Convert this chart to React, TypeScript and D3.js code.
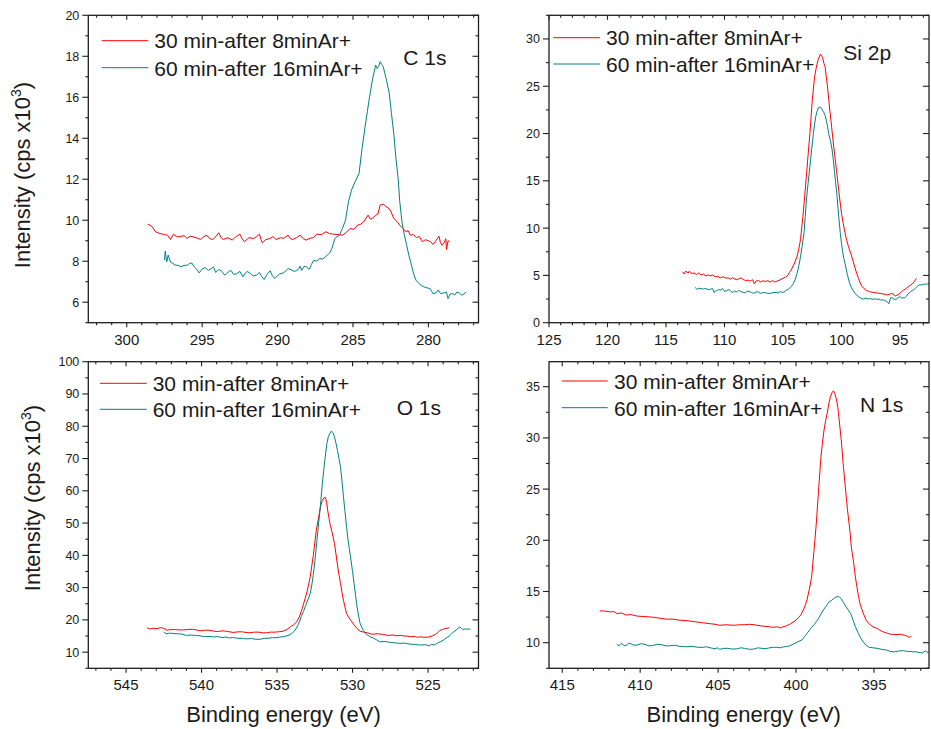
import React from "react";
import * as d3 from "d3";

// ---------- DATA ----------
type P = [number, number];

const SERIES_NAMES = ["30 min-after 8minAr+", "60 min-after 16minAr+"];
const PANEL_LABELS = ["C 1s", "Si 2p", "O 1s", "N 1s"];

const C1S_X_TICKS = [300, 295, 290, 285, 280];
const C1S_Y_TICKS = [6, 8, 10, 12, 14, 16, 18, 20];
const SI2P_X_TICKS = [125, 120, 115, 110, 105, 100, 95];
const SI2P_Y_TICKS = [0, 5, 10, 15, 20, 25, 30];
const O1S_X_TICKS = [545, 540, 535, 530, 525];
const O1S_Y_TICKS = [10, 20, 30, 40, 50, 60, 70, 80, 90, 100];
const N1S_X_TICKS = [415, 410, 405, 400, 395];
const N1S_Y_TICKS = [10, 15, 20, 25, 30, 35];

const C1S_RED: P[] = [
  [298.6, 9.81], [298.3, 9.68], [298.1, 9.44], [297.8, 9.35], [297.5, 9.3], [297.3, 9.27], [297.1, 9.06], [296.9, 9.32],
  [296.7, 9.2], [296.5, 9.19], [296.2, 9.25], [296.0, 9.11], [295.8, 9.22], [295.6, 9.19], [295.3, 9.12], [295.1, 9.06],
  [294.9, 9.2], [294.7, 9.27], [294.5, 9.1], [294.3, 9.06], [294.1, 9.2], [293.9, 9.39], [293.75, 9.15], [293.6, 9.06],
  [293.3, 9.15], [293.0, 9.03], [292.8, 9.18], [292.5, 9.32], [292.35, 9.1], [292.2, 8.95], [291.9, 9.15], [291.6, 9.11],
  [291.4, 9.2], [291.2, 9.32], [291.1, 9.05], [291.0, 8.9], [290.8, 9.05], [290.5, 9.11], [290.3, 9.2], [290.1, 9.06],
  [289.8, 9.15], [289.6, 9.11], [289.45, 9.2], [289.3, 9.27], [289.15, 9.1], [289.0, 9.06], [288.75, 9.15], [288.5, 9.27],
  [288.3, 9.1], [288.1, 9.03], [287.85, 9.12], [287.6, 9.16], [287.4, 9.32], [287.1, 9.3], [286.8, 9.44], [286.55, 9.35],
  [286.3, 9.32], [286.0, 9.3], [285.7, 9.27], [285.45, 9.4], [285.2, 9.6], [284.95, 9.55], [284.7, 9.76], [284.5, 9.8],
  [284.3, 9.92], [284.0, 10.25], [283.85, 10.05], [283.7, 10.1], [283.5, 10.25], [283.35, 10.3], [283.2, 10.74], [283.0, 10.79],
  [282.8, 10.66], [282.65, 10.6], [282.5, 10.45], [282.3, 10.09], [282.1, 9.95], [281.9, 9.76], [281.7, 9.6], [281.5, 9.44],
  [281.35, 9.5], [281.2, 9.27], [281.0, 9.3], [280.8, 9.16], [280.6, 9.2], [280.4, 8.95], [280.2, 9.05], [280.0, 9.0],
  [279.85, 8.95], [279.7, 8.82], [279.5, 9.0], [279.3, 9.22], [279.2, 8.9], [279.1, 8.78], [278.95, 8.9], [278.85, 9.1],
  [278.8, 8.57], [278.7, 9.0], [278.6, 8.95],
];

const C1S_TEAL: P[] = [
  [297.5, 8.05], [297.45, 8.49], [297.35, 7.97], [297.25, 8.3], [297.1, 7.95], [296.95, 7.9], [296.8, 7.81], [296.6, 7.8],
  [296.4, 7.73], [296.2, 7.8], [296.0, 7.8], [295.85, 7.88], [295.7, 7.92], [295.5, 7.7], [295.35, 7.6], [295.2, 7.43],
  [295.0, 7.62], [294.8, 7.69], [294.6, 7.55], [294.4, 7.64], [294.25, 7.72], [294.1, 7.45], [293.9, 7.6], [293.7, 7.5],
  [293.5, 7.32], [293.3, 7.45], [293.1, 7.56], [292.9, 7.35], [292.7, 7.4], [292.5, 7.5], [292.3, 7.24], [292.1, 7.45],
  [292.0, 7.5], [291.8, 7.4], [291.6, 7.28], [291.4, 7.32], [291.2, 7.45], [291.05, 7.25], [290.9, 7.11], [290.7, 7.35],
  [290.5, 7.53], [290.35, 7.3], [290.2, 7.16], [290.0, 7.3], [289.85, 7.38], [289.7, 7.4], [289.5, 7.5], [289.3, 7.64],
  [289.1, 7.58], [288.9, 7.5], [288.8, 7.53], [288.6, 7.62], [288.5, 7.76], [288.4, 7.55], [288.25, 7.75], [288.1, 7.73],
  [287.9, 7.6], [287.75, 7.85], [287.6, 8.05], [287.4, 8.0], [287.2, 8.13], [287.0, 8.1], [286.85, 8.2], [286.7, 8.3],
  [286.55, 8.4], [286.4, 8.62], [286.2, 9.11], [286.05, 9.2], [285.9, 9.27], [285.7, 9.6], [285.5, 10.0], [285.3, 10.9],
  [285.1, 11.47], [284.85, 11.9], [284.6, 12.28], [284.4, 13.5], [284.2, 14.56], [284.05, 15.3], [283.9, 16.03], [283.7, 16.9],
  [283.5, 17.57], [283.4, 17.4], [283.3, 17.5], [283.2, 17.74], [283.1, 17.6], [283.0, 17.5], [282.8, 16.9], [282.6, 16.2],
  [282.45, 15.2], [282.3, 14.24], [282.15, 13.0], [282.0, 11.96], [281.9, 10.9], [281.75, 9.9], [281.6, 9.3], [281.45, 8.8],
  [281.3, 8.3], [281.1, 7.73], [280.95, 7.3], [280.8, 7.04], [280.6, 6.9], [280.45, 6.8], [280.3, 6.75], [280.1, 6.7],
  [279.9, 6.67], [279.8, 6.55], [279.7, 6.42], [279.5, 6.45], [279.35, 6.6], [279.2, 6.42], [279.0, 6.45], [278.8, 6.5],
  [278.75, 6.3], [278.7, 6.18], [278.55, 6.4], [278.4, 6.42], [278.25, 6.35], [278.1, 6.5], [277.95, 6.45], [277.8, 6.34],
  [277.65, 6.4], [277.5, 6.5],
];

const SI2P_RED: P[] = [
  [113.6, 5.39], [113.45, 5.15], [113.3, 5.45], [113.1, 5.25], [113.0, 5.45], [112.8, 5.2], [112.6, 5.25], [112.4, 5.1],
  [112.2, 5.25], [112.0, 5.05], [111.8, 5.15], [111.6, 4.95], [111.4, 5.05], [111.2, 4.95], [111.0, 5.05], [110.8, 4.85],
  [110.6, 4.9], [110.35, 4.75], [110.1, 4.86], [109.9, 4.7], [109.7, 4.75], [109.5, 4.6], [109.3, 4.75], [109.0, 4.55],
  [108.8, 4.62], [108.6, 4.75], [108.4, 4.58], [108.2, 4.45], [108.0, 4.5], [107.8, 4.4], [107.6, 4.55], [107.45, 4.1],
  [107.3, 4.4], [107.1, 4.45], [106.9, 4.3], [106.7, 4.44], [106.5, 4.35], [106.3, 4.45], [106.1, 4.3], [105.9, 4.45],
  [105.7, 4.3], [105.5, 4.4], [105.3, 4.5], [105.0, 4.69], [104.8, 4.8], [104.6, 5.0], [104.45, 5.3], [104.3, 5.57],
  [104.05, 6.2], [103.8, 6.98], [103.65, 7.8], [103.5, 8.8], [103.3, 11.2], [103.15, 13.3], [103.0, 15.5], [102.85, 17.8],
  [102.7, 20.0], [102.5, 23.5], [102.3, 26.0], [102.15, 27.0], [102.0, 27.8], [101.8, 28.4], [101.6, 28.0], [101.5, 27.4],
  [101.4, 27.07], [101.3, 26.0], [101.2, 25.0], [101.0, 22.5], [100.85, 20.8], [100.7, 19.0], [100.55, 17.4], [100.4, 15.8],
  [100.2, 13.6], [100.0, 11.56], [99.85, 10.5], [99.7, 9.5], [99.55, 8.7], [99.4, 8.04], [99.2, 7.3], [99.0, 6.5],
  [98.85, 5.8], [98.7, 5.22], [98.55, 4.7], [98.4, 4.2], [98.25, 3.85], [98.1, 3.63], [97.85, 3.4], [97.6, 3.28],
  [97.3, 3.2], [97.0, 3.15], [96.7, 3.1], [96.4, 3.03], [96.15, 2.95], [95.9, 3.0], [95.75, 3.1], [95.6, 3.05],
  [95.4, 2.82], [95.2, 2.95], [95.0, 3.1], [94.85, 3.3], [94.7, 3.45], [94.55, 3.55], [94.4, 3.7], [94.25, 3.85],
  [94.1, 3.98], [93.95, 4.1], [93.8, 4.3], [93.7, 4.5], [93.6, 4.69],
];

const SI2P_TEAL: P[] = [
  [112.5, 3.74], [112.35, 3.5], [112.2, 3.65], [112.0, 3.6], [111.8, 3.56], [111.6, 3.62], [111.4, 3.5], [111.2, 3.55],
  [111.0, 3.6], [110.9, 3.2], [110.7, 3.38], [110.5, 3.5], [110.3, 3.45], [110.15, 3.6], [110.0, 3.3], [109.8, 3.4],
  [109.6, 3.5], [109.45, 3.3], [109.3, 3.2], [109.15, 3.35], [109.0, 3.24], [108.8, 3.4], [108.6, 3.3], [108.4, 3.2],
  [108.2, 3.15], [108.05, 3.35], [107.9, 3.3], [107.7, 3.2], [107.5, 3.1], [107.3, 3.25], [107.1, 3.25], [106.95, 3.1],
  [106.8, 3.15], [106.6, 3.2], [106.4, 3.12], [106.1, 3.1], [105.85, 3.18], [105.6, 3.2], [105.4, 3.15], [105.2, 3.3],
  [105.05, 3.2], [104.9, 3.25], [104.7, 3.45], [104.55, 3.5], [104.4, 3.7], [104.25, 3.9], [104.1, 4.16], [103.95, 4.6],
  [103.8, 5.2], [103.65, 6.0], [103.5, 6.98], [103.35, 8.2], [103.2, 9.5], [103.1, 11.2], [103.0, 12.97], [102.85, 14.8],
  [102.7, 16.5], [102.55, 18.3], [102.4, 20.0], [102.3, 21.0], [102.2, 21.8], [102.1, 22.3], [102.0, 22.7], [101.85, 22.8],
  [101.7, 22.66], [101.6, 22.4], [101.5, 22.2], [101.4, 21.9], [101.3, 21.4], [101.2, 20.8], [101.1, 20.0], [100.95, 19.3],
  [100.8, 18.26], [100.7, 17.2], [100.6, 16.0], [100.5, 14.8], [100.4, 13.68], [100.25, 11.4], [100.1, 9.45], [100.0, 8.4],
  [99.9, 7.5], [99.8, 6.8], [99.7, 6.27], [99.5, 5.1], [99.3, 4.16], [99.15, 3.7], [99.0, 3.4], [98.85, 3.1],
  [98.7, 2.93], [98.5, 2.7], [98.3, 2.55], [98.1, 2.5], [97.9, 2.6], [97.7, 2.5], [97.5, 2.55], [97.3, 2.45],
  [97.15, 2.55], [97.0, 2.47], [96.8, 2.5], [96.65, 2.4], [96.5, 2.42], [96.3, 2.35], [96.1, 2.22], [95.95, 2.0],
  [95.85, 2.45], [95.75, 2.7], [95.6, 2.57], [95.45, 2.45], [95.3, 2.5], [95.15, 2.65], [95.0, 2.75], [94.85, 2.6],
  [94.6, 2.65], [94.45, 2.8], [94.3, 3.05], [94.1, 3.28], [93.95, 3.4], [93.8, 3.5], [93.6, 3.75], [93.4, 3.98],
  [93.2, 4.0], [93.0, 4.05], [92.8, 4.1], [92.65, 4.08], [92.5, 4.16],
];

const O1S_RED: P[] = [
  [543.6, 17.5], [543.4, 17.2], [543.2, 17.4], [542.95, 17.3], [542.7, 17.6], [542.5, 17.4], [542.3, 16.8], [542.05, 17.0],
  [541.8, 17.0], [541.5, 16.9], [541.2, 16.9], [540.9, 17.0], [540.6, 17.1], [540.35, 16.9], [540.1, 16.6], [539.8, 16.8],
  [539.5, 16.8], [539.2, 16.5], [538.9, 16.4], [538.65, 16.6], [538.4, 16.5], [538.15, 16.3], [537.9, 16.1], [537.6, 16.3],
  [537.3, 16.3], [537.05, 16.1], [536.8, 16.0], [536.5, 16.2], [536.2, 16.2], [535.95, 16.0], [535.7, 16.0], [535.45, 16.2],
  [535.2, 16.2], [534.9, 16.3], [534.6, 16.5], [534.35, 17.0], [534.1, 17.9], [533.9, 18.5], [533.7, 19.4], [533.5, 21.2],
  [533.3, 24.05], [533.15, 26.5], [533.0, 29.0], [532.8, 33.35], [532.6, 40.0], [532.4, 47.8], [532.2, 53.0], [532.1, 55.5],
  [532.0, 57.1], [531.9, 57.8], [531.8, 57.95], [531.72, 56.5], [531.65, 54.0], [531.5, 49.9], [531.35, 47.0], [531.2, 43.7],
  [531.1, 40.5], [531.0, 37.0], [530.9, 34.0], [530.8, 31.3], [530.7, 28.5], [530.6, 26.0], [530.5, 24.0], [530.4, 22.0],
  [530.25, 20.7], [530.1, 19.8], [529.9, 18.4], [529.7, 17.3], [529.5, 16.5], [529.25, 16.2], [529.0, 16.0], [528.8, 15.6],
  [528.6, 15.6], [528.3, 15.7], [528.0, 15.5], [527.65, 15.2], [527.3, 15.3], [527.05, 15.1], [526.8, 15.2], [526.6, 15.0],
  [526.4, 15.0], [526.15, 14.8], [525.9, 14.9], [525.7, 14.6], [525.5, 14.75], [525.2, 14.6], [524.9, 14.75], [524.7, 15.1],
  [524.5, 15.5], [524.35, 16.1], [524.2, 16.8], [524.05, 17.0], [523.9, 17.3], [523.75, 17.4], [523.6, 17.6],
];

const O1S_TEAL: P[] = [
  [542.5, 16.3], [542.35, 15.7], [542.2, 15.8], [542.05, 15.9], [541.9, 15.8], [541.6, 15.7], [541.3, 15.6], [541.0, 15.2],
  [540.7, 15.3], [540.4, 15.2], [540.1, 15.06], [539.8, 14.8], [539.5, 14.9], [539.2, 14.7], [538.9, 14.8], [538.65, 14.5],
  [538.4, 14.7], [538.15, 14.4], [537.9, 14.55], [537.6, 14.3], [537.3, 14.3], [537.0, 14.1], [536.7, 14.2], [536.4, 14.0],
  [536.1, 14.0], [535.85, 14.3], [535.6, 14.3], [535.3, 14.5], [535.0, 14.5], [534.8, 14.7], [534.6, 14.75], [534.4, 15.0],
  [534.2, 15.3], [534.05, 15.7], [533.9, 16.3], [533.75, 17.2], [533.6, 18.5], [533.5, 19.6], [533.4, 21.0], [533.25, 22.6],
  [533.1, 24.5], [532.95, 26.3], [532.8, 28.2], [532.7, 30.8], [532.6, 34.0], [532.5, 38.0], [532.4, 42.65], [532.3, 47.5],
  [532.2, 52.0], [532.1, 57.0], [532.0, 62.3], [531.85, 69.0], [531.7, 74.7], [531.6, 76.8], [531.5, 77.8], [531.4, 78.5],
  [531.3, 78.0], [531.2, 76.75], [531.1, 74.8], [531.0, 72.5], [530.9, 70.0], [530.8, 67.5], [530.7, 63.0], [530.6, 58.0],
  [530.5, 53.5], [530.4, 48.9], [530.3, 44.8], [530.15, 40.0], [530.0, 35.0], [529.9, 31.3], [529.8, 27.5], [529.7, 24.0],
  [529.6, 21.2], [529.5, 18.9], [529.3, 16.8], [529.1, 15.6], [528.85, 14.8], [528.6, 14.3], [528.4, 13.8], [528.2, 13.2],
  [527.85, 13.3], [527.5, 13.0], [527.2, 12.9], [526.9, 12.7], [526.55, 12.8], [526.2, 12.5], [525.85, 12.4], [525.5, 12.2],
  [525.2, 12.3], [524.9, 12.0], [524.75, 12.4], [524.6, 12.2], [524.45, 12.6], [524.3, 13.0], [524.15, 13.3], [524.0, 13.7],
  [523.8, 14.4], [523.6, 15.0], [523.45, 15.7], [523.3, 16.3], [523.1, 17.0], [522.9, 17.85], [522.8, 17.4], [522.7, 17.0],
  [522.6, 17.2], [522.5, 17.1], [522.35, 17.2], [522.2, 17.1],
];

const N1S_RED: P[] = [
  [412.6, 13.1], [412.3, 13.1], [411.9, 13.0], [411.7, 13.05], [411.5, 12.85], [411.2, 12.9], [410.9, 12.7], [410.6, 12.75],
  [410.2, 12.6], [409.7, 12.55], [409.2, 12.5], [408.8, 12.4], [408.3, 12.3], [407.9, 12.3], [407.5, 12.2], [407.0, 12.15],
  [406.5, 12.05], [406.0, 11.95], [405.5, 11.85], [405.2, 11.8], [404.9, 11.7], [404.5, 11.75], [404.0, 11.7], [403.6, 11.75],
  [403.3, 11.75], [403.0, 11.8], [402.7, 11.76], [402.3, 11.65], [402.0, 11.6], [401.7, 11.55], [401.5, 11.5], [401.2, 11.55],
  [401.0, 11.45], [400.85, 11.55], [400.7, 11.6], [400.55, 11.7], [400.4, 11.8], [400.2, 12.0], [400.0, 12.2], [399.85, 12.45],
  [399.7, 12.7], [399.6, 13.0], [399.5, 13.3], [399.4, 13.7], [399.3, 14.17], [399.15, 15.2], [399.0, 16.4], [398.85, 19.0],
  [398.7, 21.65], [398.55, 25.0], [398.4, 28.2], [398.3, 29.6], [398.2, 30.8], [398.1, 31.7], [398.0, 32.4], [397.9, 33.3],
  [397.8, 34.0], [397.7, 34.4], [397.6, 34.6], [397.5, 34.3], [397.4, 33.7], [397.32, 33.0], [397.25, 32.0], [397.1, 29.8],
  [396.95, 27.0], [396.8, 24.6], [396.7, 23.0], [396.55, 21.0], [396.45, 19.3], [396.3, 17.75], [396.2, 16.5], [396.1, 15.5],
  [396.0, 14.6], [395.9, 13.84], [395.7, 12.9], [395.5, 12.2], [395.35, 11.9], [395.2, 11.7], [395.0, 11.5], [394.8, 11.4],
  [394.6, 11.2], [394.4, 11.05], [394.2, 10.95], [394.0, 10.85], [393.75, 10.8], [393.5, 10.8], [393.3, 10.82], [393.1, 10.75],
  [392.95, 10.7], [392.8, 10.55], [392.7, 10.55], [392.6, 10.6],
];

const N1S_TEAL: P[] = [
  [411.5, 9.84], [411.35, 9.7], [411.2, 9.95], [411.05, 9.75], [410.9, 9.7], [410.75, 9.95], [410.6, 9.9], [410.4, 9.75],
  [410.2, 9.77], [409.95, 9.9], [409.7, 9.85], [409.45, 9.7], [409.2, 9.72], [408.9, 9.85], [408.6, 9.8], [408.35, 9.68],
  [408.1, 9.7], [407.8, 9.75], [407.5, 9.65], [407.25, 9.62], [407.0, 9.6], [406.75, 9.65], [406.5, 9.6], [406.25, 9.55],
  [406.0, 9.54], [405.75, 9.6], [405.5, 9.5], [405.35, 9.45], [405.2, 9.4], [405.05, 9.5], [404.9, 9.35], [404.65, 9.45],
  [404.4, 9.45], [404.1, 9.38], [403.8, 9.4], [403.55, 9.5], [403.3, 9.45], [403.0, 9.35], [402.7, 9.38], [402.45, 9.5],
  [402.2, 9.45], [401.95, 9.42], [401.7, 9.5], [401.45, 9.55], [401.2, 9.55], [401.0, 9.5], [400.8, 9.6], [400.6, 9.62],
  [400.4, 9.7], [400.2, 9.85], [400.0, 10.0], [399.8, 10.15], [399.6, 10.3], [399.45, 10.6], [399.3, 10.9], [399.15, 11.2],
  [399.0, 11.5], [398.85, 11.75], [398.7, 12.05], [398.55, 12.4], [398.4, 12.8], [398.25, 13.2], [398.1, 13.5], [397.9, 13.95],
  [397.75, 14.1], [397.6, 14.3], [397.45, 14.45], [397.3, 14.5], [397.2, 14.45], [397.1, 14.3], [397.0, 14.0], [396.9, 13.8],
  [396.8, 13.5], [396.65, 13.2], [396.5, 12.86], [396.4, 12.45], [396.3, 12.0], [396.2, 11.6], [396.1, 11.24], [396.0, 10.9],
  [395.9, 10.6], [395.8, 10.35], [395.7, 10.1], [395.5, 9.75], [395.3, 9.54], [395.05, 9.5], [394.8, 9.45], [394.5, 9.35],
  [394.2, 9.28], [393.95, 9.15], [393.7, 9.1], [393.4, 9.2], [393.1, 9.22], [392.9, 9.15], [392.7, 9.15], [392.5, 9.1],
  [392.3, 9.12], [392.1, 9.05], [391.9, 9.0], [391.8, 9.1], [391.7, 9.22], [391.6, 9.05], [391.5, 9.1],
];

// ---------- LAYOUT / STYLE ----------
const W = 931;
const H = 729;
const RED = "#ff0000";
const TEAL = "#008080";
const AXIS = "#1f1f1f";
const FONT = "'Liberation Sans', Arial, Helvetica, sans-serif";

type Panel = {
  left: number; right: number; top: number; bottom: number;
  xDomain: [number, number]; yDomain: [number, number];
  xTicks: number[]; yTicks: number[]; xMinor: number; yMinor: number;
  red: P[]; teal: P[]; label: string;
  legX1: number; legX2: number; legTextX: number; legY: [number, number]; legBase: [number, number];
  labX: number; labBase: number;
  yLabel?: { x: number; cy: number };
  xLabel?: { cx: number; base: number };
};

const panels: Panel[] = [
  {
    left: 88.3, right: 478.5, top: 15.3, bottom: 322.7,
    xDomain: [302.55, 276.68], yDomain: [5, 20],
    xTicks: C1S_X_TICKS, yTicks: C1S_Y_TICKS, xMinor: 1, yMinor: 1,
    red: C1S_RED, teal: C1S_TEAL, label: PANEL_LABELS[0],
    legX1: 101.7, legX2: 148.3, legTextX: 154.3, legY: [40.7, 67.7], legBase: [48.3, 75.7],
    labX: 403.3, labBase: 65,
    yLabel: { x: 29.5, cy: 175 },
  },
  {
    left: 549, right: 929, top: 15.3, bottom: 322.7,
    xDomain: [125, 92.52], yDomain: [0, 32.5],
    xTicks: SI2P_X_TICKS, yTicks: SI2P_Y_TICKS, xMinor: 1, yMinor: 2.5,
    red: SI2P_RED, teal: SI2P_TEAL, label: PANEL_LABELS[1],
    legX1: 553.3, legX2: 600, legTextX: 606, legY: [37.7, 64], legBase: [45, 71.7],
    labX: 843.3, labBase: 60,
  },
  {
    left: 88.3, right: 478.5, top: 361.7, bottom: 668.3,
    xDomain: [547.5, 521.66], yDomain: [5, 100],
    xTicks: O1S_X_TICKS, yTicks: O1S_Y_TICKS, xMinor: 1, yMinor: 5,
    red: O1S_RED, teal: O1S_TEAL, label: PANEL_LABELS[2],
    legX1: 100, legX2: 146.7, legTextX: 152.7, legY: [383.3, 409.3], legBase: [391, 417.3],
    labX: 396.7, labBase: 415,
    yLabel: { x: 39.5, cy: 498 },
    xLabel: { cx: 283.5, base: 722 },
  },
  {
    left: 549, right: 929, top: 361.7, bottom: 668.3,
    xDomain: [415.85, 391.47], yDomain: [7.5, 37.44],
    xTicks: N1S_X_TICKS, yTicks: N1S_Y_TICKS, xMinor: 1, yMinor: 2.5,
    red: N1S_RED, teal: N1S_TEAL, label: PANEL_LABELS[3],
    legX1: 561.7, legX2: 607.7, legTextX: 614, legY: [381, 407.7], legBase: [389.3, 415.7],
    labX: 860, labBase: 411.7,
    xLabel: { cx: 743.7, base: 722 },
  },
];

function minorValues(domain: [number, number], step: number, majors: number[]): number[] {
  const lo = Math.min(domain[0], domain[1]);
  const hi = Math.max(domain[0], domain[1]);
  const start = Math.ceil(lo / step - 1e-9) * step;
  const out: number[] = [];
  for (let v = start; v <= hi + 1e-9; v += step) {
    const r = Math.round(v * 1000) / 1000;
    if (!majors.some((m) => Math.abs(m - r) < 1e-6)) out.push(r);
  }
  return out;
}

function PanelView({ p, i }: { p: Panel; i: number }) {
  const x = d3.scaleLinear().domain(p.xDomain).range([p.left, p.right]);
  const y = d3.scaleLinear().domain(p.yDomain).range([p.bottom, p.top]);
  const line = d3.line<P>().x((d) => x(d[0])).y((d) => y(d[1]));
  const xMin = minorValues(p.xDomain, p.xMinor, p.xTicks);
  const yMin = minorValues(p.yDomain, p.yMinor, p.yTicks);
  const clipId = `clip${i}`;
  const XMAJ = 4.5, XMIN = 2.5, YMAJ = 6, YMIN = 3;
  return (
    <g>
      <defs>
        <clipPath id={clipId}>
          <rect x={p.left} y={p.top} width={p.right - p.left} height={p.bottom - p.top} />
        </clipPath>
      </defs>
      <g clipPath={`url(#${clipId})`} fill="none" strokeWidth={1} strokeLinejoin="round">
        <path d={line(p.red) || ""} stroke={RED} />
        <path d={line(p.teal) || ""} stroke={TEAL} />
      </g>
      <rect x={p.left} y={p.top} width={p.right - p.left} height={p.bottom - p.top} fill="none" stroke={AXIS} strokeWidth={1.3} />
      <g stroke={AXIS} strokeWidth={1.1}>
        {p.xTicks.map((t) => (
          <g key={`xt${t}`}>
            <line x1={x(t)} x2={x(t)} y1={p.bottom} y2={p.bottom + XMAJ} />
            <line x1={x(t)} x2={x(t)} y1={p.top} y2={p.top + XMAJ} />
          </g>
        ))}
        {xMin.map((t) => (
          <g key={`xm${t}`}>
            <line x1={x(t)} x2={x(t)} y1={p.bottom} y2={p.bottom + XMIN} />
            <line x1={x(t)} x2={x(t)} y1={p.top} y2={p.top + XMIN} />
          </g>
        ))}
        {p.yTicks.map((t) => (
          <g key={`yt${t}`}>
            <line x1={p.left - YMAJ} x2={p.left} y1={y(t)} y2={y(t)} />
            <line x1={p.right - YMAJ} x2={p.right} y1={y(t)} y2={y(t)} />
          </g>
        ))}
        {yMin.map((t) => (
          <g key={`ym${t}`}>
            <line x1={p.left - YMIN} x2={p.left} y1={y(t)} y2={y(t)} />
            <line x1={p.right - YMIN} x2={p.right} y1={y(t)} y2={y(t)} />
          </g>
        ))}
      </g>
      <g fontFamily={FONT} fill="#1a1a1a">
        {p.xTicks.map((t) => (
          <text key={`xl${t}`} x={x(t)} y={p.bottom + 21.8} fontSize={15} textAnchor="middle">{t}</text>
        ))}
        {p.yTicks.map((t) => (
          <text key={`yl${t}`} x={p.left - 9} y={y(t)} dy="0.36em" fontSize={12.5} textAnchor="end">{t}</text>
        ))}
        <line x1={p.legX1} x2={p.legX2} y1={p.legY[0]} y2={p.legY[0]} stroke={RED} strokeWidth={1} />
        <line x1={p.legX1} x2={p.legX2} y1={p.legY[1]} y2={p.legY[1]} stroke={TEAL} strokeWidth={1} />
        <text x={p.legTextX} y={p.legBase[0]} fontSize={21}>{SERIES_NAMES[0]}</text>
        <text x={p.legTextX} y={p.legBase[1]} fontSize={21}>{SERIES_NAMES[1]}</text>
        <text x={p.labX} y={p.labBase} fontSize={21}>{p.label}</text>
        {p.yLabel && (
          <text transform={`translate(${p.yLabel.x},${p.yLabel.cy}) rotate(-90)`} fontSize={22} textAnchor="middle">
            Intensity (cps x10<tspan fontSize={14} dy={-9}>3</tspan><tspan dy={9}>)</tspan>
          </text>
        )}
        {p.xLabel && (
          <text x={p.xLabel.cx} y={p.xLabel.base} fontSize={22} textAnchor="middle">Binding energy (eV)</text>
        )}
      </g>
    </g>
  );
}

export default function App() {
  return (
    <svg width={W} height={H} viewBox={`0 0 ${W} ${H}`} style={{ position: "absolute", left: 0, top: 0, background: "#fff" }}>
      <rect width={W} height={H} fill="#fff" />
      {panels.map((p, i) => (
        <PanelView key={i} p={p} i={i} />
      ))}
    </svg>
  );
}
